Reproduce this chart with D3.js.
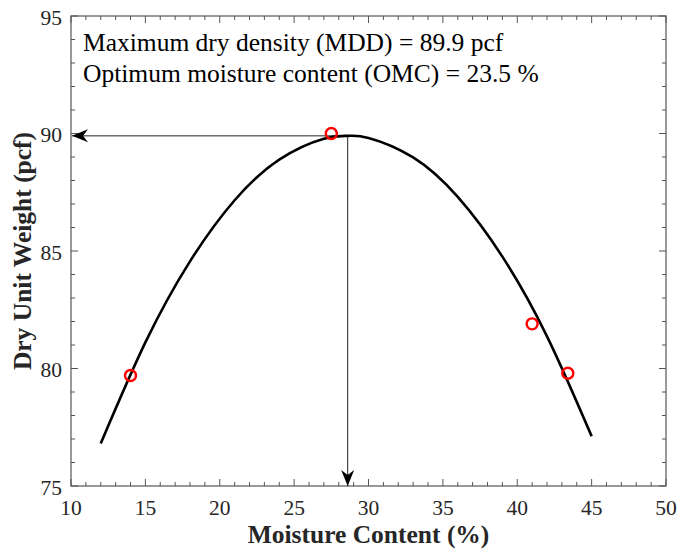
<!DOCTYPE html>
<html lang="en">
<head>
<meta charset="UTF-8">
<title>Compaction curve</title>
<script src="https://cdn.jsdelivr.net/npm/d3@7"></script>
<style>
  body { margin: 0; background: #fff; }
  text { font-family: "Liberation Serif", "Times New Roman", serif; }
</style>
</head>
<body>
<script>

var w = 678, h = 550;
var margin = {top: 16, right: 12, bottom: 64, left: 71};

// measured points
var moisture = [14, 27.5, 41, 43.4];
var dryUnitWeight = [79.7, 90.0, 81.9, 79.8];

// fitted curve
var curveX = [12, 15, 18, 21, 24, 27, 28.6, 30, 33, 36, 39, 42, 45];
var curveY = [76.81, 81.11, 84.56, 87.16, 88.89, 89.78, 89.9, 89.81, 88.98, 87.30, 84.76, 81.37, 77.12];

var omcX = 28.6, mddY = 89.9;

var xTicks = [10, 15, 20, 25, 30, 35, 40, 45, 50];
var yTicks = [75, 80, 85, 90, 95];
var notes = ["Maximum dry density (MDD) = 89.9 pcf", "Optimum moisture content (OMC) = 23.5 %"];

var iw = w - margin.left - margin.right;
var ih = h - margin.top - margin.bottom;

var x = d3.scaleLinear().domain([10, 50]).range([0, iw]);
var y = d3.scaleLinear().domain([75, 95]).range([ih, 0]);

var svg = d3.select("body").append("svg")
    .attr("width", w)
    .attr("height", h);

var defs = svg.append("defs");
defs.append("marker")
    .attr("id", "arr")
    .attr("viewBox", "-16 -7 17 14")
    .attr("markerWidth", 17)
    .attr("markerHeight", 14)
    .attr("markerUnits", "userSpaceOnUse")
    .attr("refX", 0)
    .attr("refY", 0)
    .attr("orient", "auto")
    .append("path")
    .attr("d", "M0,0 L-16,-6.5 L-11,0 L-16,6.5 Z")
    .attr("fill", "#000");

var g = svg.append("g").attr("transform", "translate(" + margin.left + "," + margin.top + ")");

// minor / major ticks on all four sides, pointing inward
var minorX = d3.range(10, 51, 1), minorY = d3.range(75, 96, 1);
var ticks = g.append("g").attr("stroke", "#555").attr("stroke-width", 1);
minorX.forEach(function(v) {
    var len = (v % 5 === 0) ? 7 : 4;
    ticks.append("line").attr("x1", x(v)).attr("x2", x(v)).attr("y1", ih).attr("y2", ih - len);
    ticks.append("line").attr("x1", x(v)).attr("x2", x(v)).attr("y1", 0).attr("y2", len);
});
minorY.forEach(function(v) {
    var len = (v % 5 === 0) ? 7 : 4;
    ticks.append("line").attr("y1", y(v)).attr("y2", y(v)).attr("x1", 0).attr("x2", len);
    ticks.append("line").attr("y1", y(v)).attr("y2", y(v)).attr("x1", iw).attr("x2", iw - len);
});

g.append("rect")
    .attr("width", iw).attr("height", ih)
    .attr("fill", "none").attr("stroke", "#555").attr("stroke-width", 1.2);

// tick labels
g.selectAll(".xl").data(xTicks).enter().append("text")
    .attr("x", function(d) { return x(d); })
    .attr("y", ih + 29)
    .attr("text-anchor", "middle")
    .attr("font-size", "21.5px")
    .attr("fill", "#262626")
    .text(function(d) { return d; });

g.selectAll(".yl").data(yTicks).enter().append("text")
    .attr("x", -9)
    .attr("y", function(d) { return y(d) + 8.5; })
    .attr("text-anchor", "end")
    .attr("font-size", "21.5px")
    .attr("fill", "#262626")
    .text(function(d) { return d; });

// axis titles
g.append("text")
    .attr("x", iw / 2)
    .attr("y", ih + 57)
    .attr("text-anchor", "middle")
    .attr("font-size", "25.5px")
    .attr("font-weight", "bold")
    .attr("fill", "#262626")
    .text("Moisture Content (%)");

g.append("text")
    .attr("transform", "translate(" + (-40) + "," + (ih / 2) + ") rotate(-90)")
    .attr("text-anchor", "middle")
    .attr("font-size", "25.5px")
    .attr("font-weight", "bold")
    .attr("fill", "#262626")
    .text("Dry Unit Weight (pcf)");

// guide arrows
g.append("line")
    .attr("x1", x(omcX)).attr("y1", y(mddY))
    .attr("x2", x(10) + 1).attr("y2", y(mddY))
    .attr("stroke", "#222").attr("stroke-width", 1)
    .attr("marker-end", "url(#arr)");

g.append("line")
    .attr("x1", x(omcX)).attr("y1", y(mddY))
    .attr("x2", x(omcX)).attr("y2", y(75))
    .attr("stroke", "#222").attr("stroke-width", 1)
    .attr("marker-end", "url(#arr)");

// fitted curve
var line = d3.line()
    .x(function(d) { return x(d[0]); })
    .y(function(d) { return y(d[1]); })
    .curve(d3.curveNatural);

g.append("path")
    .datum(d3.zip(curveX, curveY))
    .attr("d", line)
    .attr("fill", "none")
    .attr("stroke", "#000")
    .attr("stroke-width", 2.6);

// data points
g.selectAll("circle").data(d3.zip(moisture, dryUnitWeight)).enter().append("circle")
    .attr("cx", function(d) { return x(d[0]); })
    .attr("cy", function(d) { return y(d[1]); })
    .attr("r", 5.5)
    .attr("fill", "none")
    .attr("stroke", "#ff0000")
    .attr("stroke-width", 2.4);

// annotation
g.selectAll(".note").data(notes).enter().append("text")
    .attr("x", 12)
    .attr("y", function(d, i) { return 35 + i * 31; })
    .attr("font-size", "25.5px")
    .attr("fill", "#000")
    .text(function(d) { return d; });

</script>
</body>
</html>
